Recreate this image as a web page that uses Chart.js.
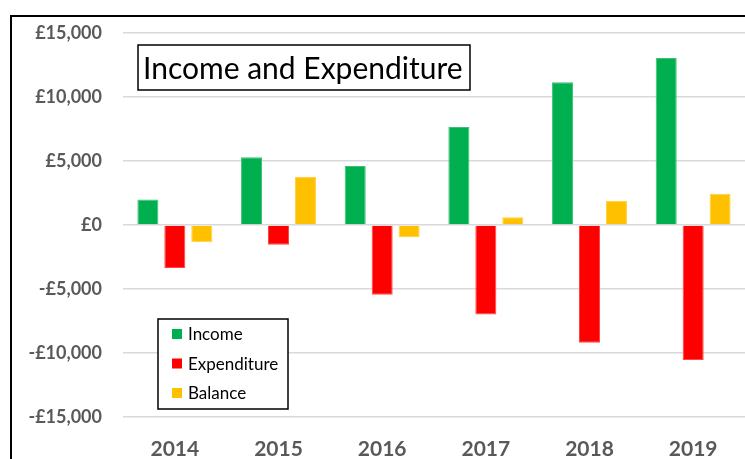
<!DOCTYPE html>
<html>
<head>
<meta charset="utf-8">
<script src="https://cdn.jsdelivr.net/npm/chart.js@4/dist/chart.umd.min.js"></script>
<style>
  html, body { margin: 0; padding: 0; background: #fff; }
  #wrap { width: 745px; height: 459px; position: relative; }
</style>
</head>
<body>
<div id="wrap"><canvas id="incomeChart"></canvas></div>
<script>
const years = ['2014', '2015', '2016', '2017', '2018', '2019'];
const income = [2000, 5300, 4600, 7650, 11150, 13050];
const expenditure = [-3350, -1550, -5450, -7000, -9200, -10550];
const balance = [-1350, 3750, -950, 600, 1900, 2450];
const yTicks = [-15000, -10000, -5000, 0, 5000, 10000, 15000];

const FONT = 'Lato, "Open Sans", sans-serif';

function money(v) {
    const s = '£' + Math.abs(v).toLocaleString('en-GB');
    return v < 0 ? '-' + s : s;
}

// frame, title box and legend box are drawn by hand
const decorations = {
    id: 'decorations',
    beforeDraw(chart) {
        const ctx = chart.ctx;
        ctx.save();
        ctx.fillStyle = '#fff';
        ctx.fillRect(0, 0, chart.width, chart.height);
        ctx.strokeStyle = '#000';
        ctx.lineWidth = 2;
        ctx.beginPath();
        ctx.moveTo(11, chart.height);
        ctx.lineTo(11, 16);
        ctx.lineTo(chart.width, 16);
        ctx.stroke();
        ctx.restore();
    },
    afterDraw(chart) {
        const ctx = chart.ctx;
        ctx.save();
        // title
        ctx.fillStyle = '#fff';
        ctx.fillRect(138, 45, 332, 45);
        ctx.strokeStyle = '#000';
        ctx.lineWidth = 1.5;
        ctx.strokeRect(138, 45, 332, 45);
        ctx.fillStyle = '#000';
        ctx.font = '30px ' + FONT;
        ctx.textBaseline = 'middle';
        ctx.fillText('Income and Expenditure', 143, 69);

        // legend
        ctx.fillStyle = '#fff';
        ctx.fillRect(158, 319, 130, 90);
        ctx.strokeRect(158, 319, 130, 90);
        ctx.font = '17px ' + FONT;
        chart.data.datasets.forEach((ds, i) => {
            const y = 334 + i * 29.5;
            ctx.fillStyle = ds.backgroundColor;
            ctx.fillRect(172, y - 5, 10, 10);
            ctx.fillStyle = '#000';
            ctx.fillText(ds.label, 188, y + 1);
        });
        ctx.restore();
    }
};

const dataIncome = {
    labels: years,
    datasets: [{
        label: 'Income',
        data: income,
        backgroundColor: '#00B050',
        borderColor: '#3CC073',
        borderWidth: 1
    }, {
        label: 'Expenditure',
        data: expenditure,
        backgroundColor: '#FF0000',
        borderColor: '#FF4545',
        borderWidth: 1
    }, {
        label: 'Balance',
        data: balance,
        backgroundColor: '#FFC000',
        borderColor: '#FFD040',
        borderWidth: 1
    }]
};

const configIncome = {
    type: 'bar',
    data: dataIncome,
    plugins: [decorations],
    options: {
        responsive: true,
        maintainAspectRatio: false,
        animation: false,
        datasets: {
            bar: {
                categoryPercentage: 0.78,
                barPercentage: 0.78
            }
        },
        layout: {
            padding: { top: 33, right: 0, bottom: 0, left: 0 }
        },
        plugins: {
            legend: { display: false },
            title: { display: false },
            tooltip: { enabled: false }
        },
        scales: {
            x: {
                grid: { display: false },
                border: { display: false },
                ticks: {
                    color: '#595959',
                    padding: 12,
                    font: { family: FONT, size: 21, weight: 'bold' }
                },
                afterFit(scale) { scale.height = 42; }
            },
            y: {
                min: -15000,
                max: 15000,
                afterBuildTicks(scale) {
                    scale.ticks = yTicks.map(v => ({ value: v }));
                },
                grid: {
                    color: '#D9D9D9',
                    lineWidth: 1.5,
                    drawTicks: false
                },
                border: { display: false },
                ticks: {
                    color: '#595959',
                    padding: 21,
                    font: { family: FONT, size: 18, weight: 'bold' },
                    callback: v => money(v)
                },
                afterFit(scale) { scale.width = 123; }
            }
        }
    }
};

const barChartIncome = new Chart(
    document.getElementById('incomeChart'),
    configIncome
);
</script>
</body>
</html>
